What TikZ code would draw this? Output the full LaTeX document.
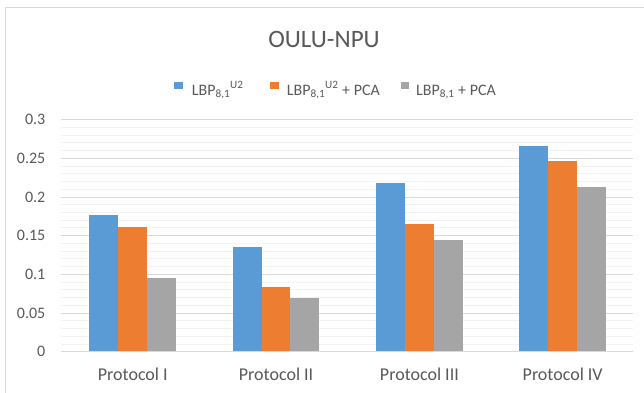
\documentclass[tikz,border=0pt]{standalone}
\usepackage{fontspec}
\setmainfont{Carlito}
\usetikzlibrary{positioning}

\definecolor{barblue}{HTML}{5B9BD5}
\definecolor{barorange}{HTML}{ED7D31}
\definecolor{bargray}{HTML}{A5A5A5}
\definecolor{txtgray}{HTML}{595959}
\definecolor{gridmajor}{HTML}{D9D9D9}
\definecolor{gridminor}{HTML}{F2F2F2}

\begin{document}
\begin{tikzpicture}[x=1pt,y=-1pt,
    lbl/.style={text=txtgray,inner sep=0pt},
    keytxt/.style={lbl,anchor=base west,font=\fontsize{16}{16}\selectfont},
    keybox/.style={minimum width=8.7pt,minimum height=7.5pt,inner sep=0pt}]

    % page and chart frame
    \useasboundingbox[fill=white] (0,0) rectangle (644,392);
    \draw[gridmajor,line width=0.8pt] (5.5,400) -- (5.5,7.5) -- (660,7.5);

    \node[lbl,font=\fontsize{25}{25}\selectfont] (title) at (324,39.5) {OULU-NPU};

    % legend
    \node[keybox,fill=barblue]   (keyA) at (178.3,85.4) {};
    \node[keybox,fill=barorange] (keyB) at (274.3,85.4) {};
    \node[keybox,fill=bargray]   (keyC) at (405.0,85.4) {};
    \node[keytxt] (txtA) at (191.7,95) {LBP\textsubscript{8,1}\textsuperscript{U2}};
    \node[keytxt] (txtB) at (286.7,95) {LBP\textsubscript{8,1}\textsuperscript{U2} + PCA};
    \node[keytxt] (txtC) at (416.0,95) {LBP\textsubscript{8,1} + PCA};

    \begin{scope}[yshift=-351.7pt,y=773.3pt]
        % grid
        \foreach \v in {0.01,0.02,...,0.301} {
            \draw[gridminor,line width=0.8pt] (61,\v) -- (633,\v);
        }
        \foreach \v in {0.05,0.1,0.15,0.2,0.25,0.3} {
            \draw[gridmajor,line width=0.8pt] (61,\v) -- (633,\v);
        }
        \foreach \v/\t in {0/0,0.05/0.05,0.1/0.1,0.15/0.15,0.2/0.2,0.25/0.25,0.3/0.3} {
            \node[lbl,anchor=east,font=\fontsize{16}{16}\selectfont] (tick\t) at (45.5,\v) {\t};
        }

        % bars
        \foreach \a/\b/\c [count=\i from 0] in
            {0.177/0.161/0.095, 0.136/0.084/0.069, 0.218/0.165/0.145, 0.266/0.246/0.213} {
            \pgfmathsetmacro\xl{89.3+143.3*\i}
            \fill[barblue]   (\xl,0) rectangle ++(28.9,\a);
            \fill[barorange] (\xl+28.9,0) rectangle ++(28.9,\b);
            \fill[bargray]   (\xl+57.8,0) rectangle ++(28.9,\c);
        }

        \draw[gridmajor,line width=1.2pt] (61,0) -- (633,0);
    \end{scope}

    % categories
    \foreach \n [count=\i from 0] in {I,II,III,IV} {
        \node[lbl,font=\fontsize{18}{18}\selectfont] (cat\i) at ({132.8+143.3*\i},374.7) {Protocol \n};
    }

\end{tikzpicture}
\end{document}
